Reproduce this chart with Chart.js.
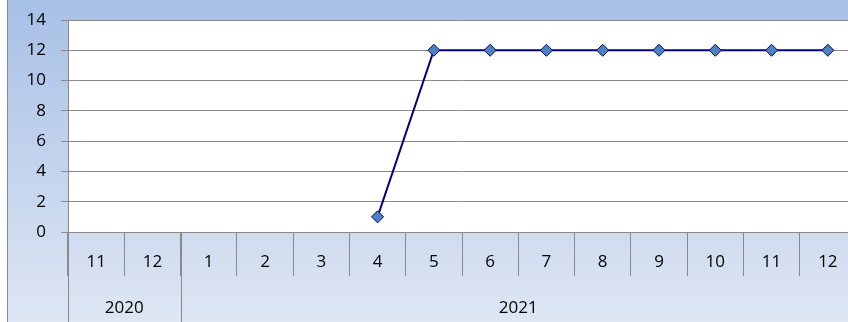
<!DOCTYPE html>
<html>
<head>
<meta charset="utf-8">
<script src="https://cdn.jsdelivr.net/npm/chart.js@4.4.1/dist/chart.umd.min.js"></script>
<style>
  html, body { margin: 0; padding: 0; background: #fff; overflow: hidden; }
  #wrap { position: absolute; left: 7px; top: 0; width: 856px; height: 322px; }
</style>
</head>
<body>
<div id="wrap"><canvas id="chart"></canvas></div>
<script>
// month / year per category, and the monthly count
const months = ['11', '12', '1', '2', '3', '4', '5', '6', '7', '8', '9', '10', '11', '12'];
const years = ['2020', '2020', '2021', '2021', '2021', '2021', '2021', '2021', '2021', '2021', '2021', '2021', '2021', '2021'];
const counts = [null, null, null, null, null, 1, 12, 12, 12, 12, 12, 12, 12, 12];
const yTicks = [0, 2, 4, 6, 8, 10, 12, 14];

const FONT = '"Open Sans", "Liberation Sans", sans-serif';
const GRID = '#8a8a8a';

// gradient frame, white plot area, left border line
const background = {
  id: 'background',
  beforeDraw(chart) {
    const { ctx, chartArea: a, width, height } = chart;
    const g = ctx.createLinearGradient(0, 0, 0, height);
    g.addColorStop(0, '#a7c0e6');
    g.addColorStop(1, '#dee6f3');
    ctx.save();
    ctx.fillStyle = g;
    ctx.fillRect(0, 0, width, height);
    ctx.fillStyle = '#ffffff';
    ctx.fillRect(a.left, a.top, a.right - a.left, a.bottom - a.top);
    ctx.strokeStyle = GRID;
    ctx.lineWidth = 1;
    ctx.beginPath();
    ctx.moveTo(0.5, 0);
    ctx.lineTo(0.5, height);
    ctx.stroke();
    ctx.restore();
  }
};

// second label row: year groups with full-height separators
const yearRow = {
  id: 'yearRow',
  afterDraw(chart) {
    const { ctx, chartArea: a, height } = chart;
    const x = chart.scales.x;
    const step = x.getPixelForValue(1) - x.getPixelForValue(0);
    const groups = [];
    years.forEach((y, i) => {
      const last = groups[groups.length - 1];
      if (last && last.year === y) last.end = i;
      else groups.push({ year: y, start: i, end: i });
    });
    ctx.save();
    ctx.strokeStyle = GRID;
    ctx.lineWidth = 1;
    ctx.fillStyle = '#000';
    ctx.font = '17px ' + FONT;
    ctx.textAlign = 'center';
    ctx.textBaseline = 'middle';
    groups.forEach(g => {
      const l = x.getPixelForValue(g.start) - step / 2;
      const r = x.getPixelForValue(g.end) + step / 2;
      const px = Math.round(l) + 0.5;
      ctx.beginPath();
      ctx.moveTo(px, a.bottom);
      ctx.lineTo(px, height);
      ctx.stroke();
      ctx.fillText(g.year, (l + r) / 2, 308);
    });
    ctx.restore();
  }
};

new Chart(document.getElementById('chart'), {
  type: 'line',
  data: {
    labels: months,
    datasets: [{
      data: counts,
      borderColor: '#000080',
      borderWidth: 2,
      backgroundColor: '#4f81bd',
      pointStyle: 'rectRot',
      pointRadius: 6,
      pointBorderColor: '#000080',
      pointBorderWidth: 1,
      pointBackgroundColor: '#4f81bd',
      spanGaps: false,
      tension: 0
    }]
  },
  options: {
    responsive: true,
    maintainAspectRatio: false,
    animation: false,
    layout: { padding: { top: 20, right: 0, left: 0, bottom: 0 } },
    plugins: { legend: { display: false }, tooltip: { enabled: false } },
    scales: {
      x: {
        type: 'category',
        offset: true,
        afterFit(scale) { scale.height = 90; },
        grid: {
          offset: true,
          drawOnChartArea: false,
          color: GRID,
          tickLength: 44
        },
        border: { color: GRID },
        ticks: {
          color: '#000',
          font: { family: FONT, size: 17 },
          padding: -24,
          maxRotation: 0,
          autoSkip: false
        }
      },
      y: {
        min: 0,
        max: 14,
        afterFit(scale) {
          scale.width = 61;
          // plot top is set by layout padding alone
          scale.paddingTop = 0;
          scale.paddingBottom = 0;
        },
        afterBuildTicks(scale) { scale.ticks = yTicks.map(v => ({ value: v })); },
        grid: { color: GRID, tickLength: 7 },
        border: { color: GRID },
        ticks: {
          color: '#000',
          font: { family: FONT, size: 17 },
          padding: 15
        }
      }
    }
  },
  plugins: [background, yearRow]
});
</script>
</body>
</html>
